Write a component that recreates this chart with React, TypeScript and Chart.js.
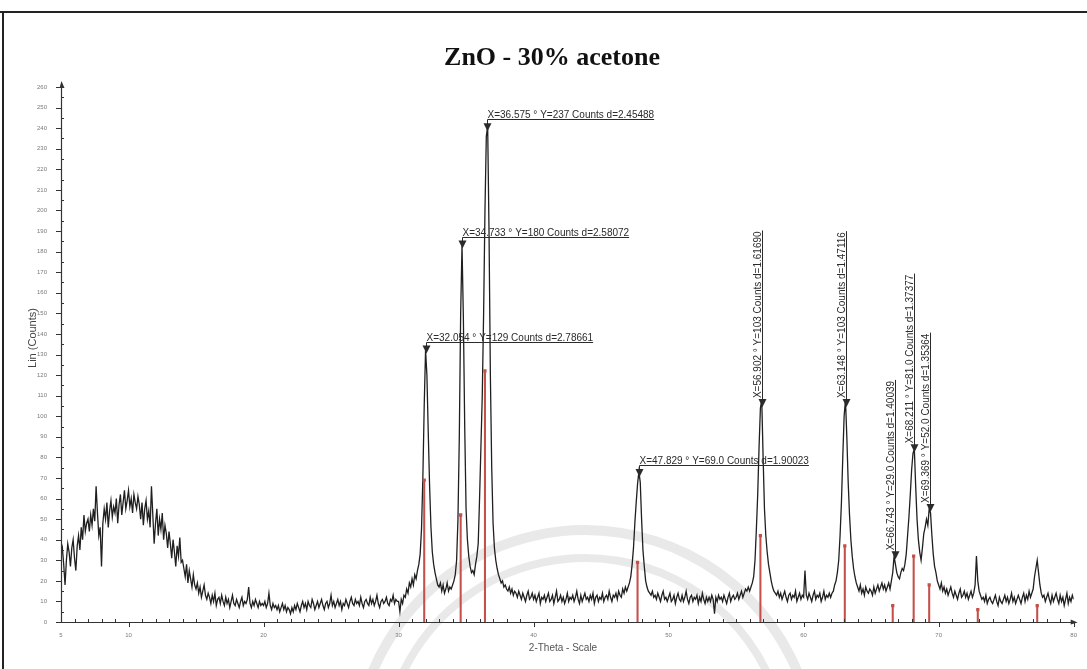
import React, { useEffect, useRef } from "react";
import { Chart, registerables } from "chart.js";

Chart.register(...registerables);

const chartTitle = "ZnO - 30% acetone";
const xAxisTitle = "2-Theta - Scale";
const yAxisTitle = "Lin (Counts)";

// measured intensity, 2-theta from 5.0 to 80.0 in 0.1 degree steps
const thetaStart = 5;
const thetaStep = 0.1;
const counts: number[] = [
  33, 36, 28, 18, 30, 38, 34, 27, 36, 40,
  31, 25, 37, 42, 35, 46, 40, 52, 44, 48,
  50, 44, 52, 47, 55, 49, 66, 53, 42, 46,
  27, 48, 55, 50, 58, 46, 54, 59, 51, 56,
  53, 60, 48, 57, 62, 52, 58, 64, 55, 59,
  64, 56, 60, 53, 62, 58, 55, 61, 57, 50,
  58, 47, 55, 59, 50, 54, 46, 66, 52, 38,
  48, 55, 42, 50, 45, 53, 40, 47, 43, 36,
  44, 38, 31, 40, 34, 27, 37, 32, 41, 29,
  30, 26, 22, 28, 19, 25, 21, 17, 23, 18,
  16, 19, 14, 17, 12, 15, 18, 13, 11, 14,
  12, 9, 13, 10, 14, 8, 11, 12, 9, 13,
  10, 8, 12, 9, 11, 7, 10, 13, 9, 8,
  11, 9, 7, 10, 12, 8, 10, 9, 11, 17,
  9, 7, 10, 8, 11, 9, 7, 10, 8, 9,
  8, 10, 7, 9, 14, 8, 6, 9, 7, 8,
  6, 8, 5, 7, 9, 6, 8, 5, 7, 6,
  4, 7, 5, 8, 6, 9, 7, 5, 8, 10,
  7, 9, 6, 10, 8, 7, 11, 9, 6, 8,
  10, 7, 9, 11, 8, 6, 9, 10, 7, 9,
  13, 8, 10, 7, 9, 11, 8, 10, 6, 9,
  8, 11, 9, 7, 10, 12, 9, 8, 11, 9,
  10, 8, 12, 9, 7, 10, 11, 9, 8, 12,
  9, 11, 8, 10, 13, 9, 7, 10, 11, 9,
  10, 12, 9, 8, 11, 10, 13, 9, 11, 10,
  10, 5, 11, 9, 13, 12, 16, 14, 19, 17,
  21, 18, 23, 21, 25, 28, 33, 45, 70, 105,
  132, 120, 92, 66, 46, 34, 28, 24, 21, 18,
  17, 19, 15, 18, 14, 16, 19, 15, 17, 16,
  18, 20, 23, 30, 50, 90, 150, 183, 148, 95,
  55, 40, 32, 27, 24, 25, 23, 28, 32, 38,
  60, 85, 110, 150, 200, 236, 241, 190, 120, 75,
  48, 36, 30, 26, 23, 21, 19, 20, 17, 18,
  16, 15, 17, 14, 16, 13, 15, 14, 12, 15,
  13, 11, 14, 12, 10, 13, 15, 11, 12, 14,
  11, 13, 10, 12, 14, 9, 12, 11, 13, 10,
  12, 14, 10, 11, 13, 9, 12, 15, 10, 11,
  13, 10, 12, 9, 11, 14, 10, 12, 11, 13,
  10, 12, 15, 11, 9, 13, 10, 12, 14, 11,
  12, 10, 13, 11, 14, 9, 12, 13, 10, 12,
  11, 14, 10, 12, 13, 11, 15, 12, 10, 13,
  12, 14, 11, 15, 13, 12, 16, 14, 17, 15,
  17, 19, 22, 28, 36, 48, 58, 67, 73, 68,
  50, 35, 27, 20, 17, 15, 14, 13, 15, 12,
  13, 11, 14, 12, 10, 13, 15, 11, 12, 10,
  12, 14, 10, 11, 13, 9, 12, 14, 11, 10,
  13, 10, 12, 15, 11, 9, 12, 13, 10, 12,
  11, 13, 9, 12, 10, 14, 11, 9, 12, 10,
  12, 10, 13, 11, 4, 12, 10, 13, 11, 12,
  10, 13, 11, 9, 12, 14, 10, 12, 13, 11,
  12, 14, 11, 13, 15, 12, 14, 16, 15, 17,
  15, 17, 19, 22, 30, 45, 62, 85, 104, 108,
  80, 55, 42, 34, 28, 24, 20, 17, 15, 14,
  13, 15, 12, 14, 11, 13, 15, 12, 10, 13,
  14, 11, 13, 12, 15, 10, 12, 14, 11, 13,
  12, 25, 13, 11, 14, 12, 10, 13, 15, 11,
  13, 12, 14, 10, 12, 15, 11, 13, 12, 14,
  12, 14, 15, 18, 20, 24, 30, 42, 58, 80,
  100, 108, 90, 68, 52, 40, 32, 26, 22, 19,
  17, 15, 18, 14, 16, 13, 17, 15, 14, 16,
  15, 13, 17, 14, 16, 18, 15, 17, 19, 16,
  18, 15, 17, 19, 16, 20, 24, 32, 28, 24,
  22, 21, 24, 26, 25, 28, 33, 42, 51, 62,
  74, 82, 84, 66, 50, 40, 34, 30, 36, 43,
  46, 50, 47, 55, 53, 42, 33, 27, 24, 20,
  18, 16, 19, 15, 17, 14, 16, 13, 15, 17,
  14, 12, 15, 13, 11, 14, 16, 12, 13, 15,
  12, 14, 11, 13, 15, 12, 14, 18, 32, 20,
  15, 13, 11, 12, 10, 13, 9, 11, 12, 10,
  9, 11, 13, 10, 8, 12, 10, 9, 11, 13,
  10, 12, 9, 11, 14, 10, 12, 9, 11, 13,
  11, 9, 12, 14, 10, 13, 11, 15, 12, 14,
  16, 22, 26, 30, 24, 18, 14, 12, 13, 10,
  12, 14, 11, 9, 13, 10, 12, 14, 11, 9,
  13, 10, 12, 8, 11, 14, 9, 12, 10, 13,
  11,
];

const xTickValues = [5, 10, 20, 30, 40, 50, 60, 70, 80];
const yTickValues = [
  0, 10, 20, 30, 40, 50, 60, 70, 80, 90, 100, 110, 120, 130,
  140, 150, 160, 170, 180, 190, 200, 210, 220, 230, 240, 250, 260,
];

// peak-search annotations
const peakTheta = [32.054, 34.733, 36.575, 47.829, 56.902, 63.148, 66.743, 68.211, 69.369];
const peakCounts = [129, 180, 237, 69.0, 103, 103, 29.0, 81.0, 52.0];
const peakLabels = [
  "X=32.054 ° Y=129 Counts d=2.78661",
  "X=34.733 ° Y=180 Counts d=2.58072",
  "X=36.575 ° Y=237 Counts d=2.45488",
  "X=47.829 ° Y=69.0 Counts d=1.90023",
  "X=56.902 ° Y=103 Counts d=1.61690",
  "X=63.148 ° Y=103 Counts d=1.47116",
  "X=66.743 ° Y=29.0 Counts d=1.40039",
  "X=68.211 ° Y=81.0 Counts d=1.37377",
  "X=69.369 ° Y=52.0 Counts d=1.35364",
];
const peakLabelVertical = [false, false, false, false, true, true, true, true, true];

// reference pattern sticks (red)
const refTheta = [31.9, 34.6, 36.4, 47.7, 56.8, 63.05, 66.6, 68.15, 69.3, 72.9, 77.3];
const refCounts = [69, 52, 122, 29, 42, 37, 8, 32, 18, 6, 8];

const SANS = "'Liberation Sans', Arial, sans-serif";
const SERIF = "'Liberation Serif', 'Times New Roman', serif";
const INK = "#2b2b2b";
const STICK = "#c4504a";

const decorPlugin = {
  id: "xrdDecor",
  beforeDraw(chart: any) {
    const { ctx, width, height } = chart;
    ctx.save();
    ctx.fillStyle = "#ffffff";
    ctx.fillRect(0, 0, width, height);
    // faint watermark arcs
    ctx.strokeStyle = "rgba(200,200,200,0.4)";
    ctx.lineWidth = 10;
    ctx.beginPath();
    ctx.arc(585, 760, 230, Math.PI * 1.05, Math.PI * 1.95);
    ctx.stroke();
    ctx.lineWidth = 8;
    ctx.beginPath();
    ctx.arc(585, 760, 202, Math.PI * 1.05, Math.PI * 1.95);
    ctx.stroke();
    // frame
    ctx.fillStyle = "#222";
    ctx.fillRect(0, 11, width, 2);
    ctx.fillRect(2, 11, 2, height - 11);
    ctx.restore();
  },
  afterDatasetsDraw(chart: any) {
    const { ctx } = chart;
    const xs = chart.scales.x;
    const ys = chart.scales.y;
    const x0 = xs.left;
    const x1 = xs.right;
    const y0 = ys.bottom;
    const y1 = ys.top;
    ctx.save();
    ctx.strokeStyle = "#333";
    ctx.fillStyle = "#333";
    ctx.lineWidth = 1.2;
    // axes
    ctx.beginPath();
    ctx.moveTo(x0 + 0.5, y0);
    ctx.lineTo(x0 + 0.5, y1 - 3);
    ctx.moveTo(x0, y0 + 0.5);
    ctx.lineTo(x1 + 2, y0 + 0.5);
    ctx.stroke();
    // arrow heads
    ctx.beginPath();
    ctx.moveTo(x0 + 0.5, y1 - 6);
    ctx.lineTo(x0 - 1.5, y1 + 1);
    ctx.lineTo(x0 + 3.5, y1 + 1);
    ctx.closePath();
    ctx.fill();
    ctx.beginPath();
    ctx.moveTo(x1 + 4, y0 + 0.5);
    ctx.lineTo(x1 - 3, y0 - 2.5);
    ctx.lineTo(x1 - 3, y0 + 2.5);
    ctx.closePath();
    ctx.fill();
    // y ticks
    ctx.lineWidth = 1;
    ctx.beginPath();
    for (let v = 0; v <= 260; v += 5) {
      const py = Math.round(ys.getPixelForValue(v)) + 0.5;
      if (v % 10 === 0) {
        ctx.moveTo(x0 - 5, py);
        ctx.lineTo(x0, py);
      } else {
        ctx.moveTo(x0, py);
        ctx.lineTo(x0 + 3, py);
      }
    }
    // x ticks
    for (let v = 5; v <= 80; v += 1) {
      const px = Math.round(xs.getPixelForValue(v)) + 0.5;
      if (v % 10 === 0) {
        ctx.moveTo(px, y0);
        ctx.lineTo(px, y0 + 5);
      } else {
        ctx.moveTo(px, y0);
        ctx.lineTo(px, y0 - 3);
      }
    }
    ctx.stroke();

    // annotations
    ctx.font = `10px ${SANS}`;
    ctx.fillStyle = INK;
    ctx.strokeStyle = INK;
    ctx.lineWidth = 1;
    peakTheta.forEach((t, i) => {
      const px = Math.round(xs.getPixelForValue(t)) + 0.5;
      const py = ys.getPixelForValue(peakCounts[i]);
      const cy = py - 7;
      // triangle
      ctx.beginPath();
      ctx.moveTo(px - 4, cy - 4);
      ctx.lineTo(px + 4, cy - 4);
      ctx.lineTo(px, cy + 4);
      ctx.closePath();
      ctx.fill();
      const label = peakLabels[i];
      const w = ctx.measureText(label).width;
      if (peakLabelVertical[i]) {
        const start = cy - 5;
        ctx.beginPath();
        ctx.moveTo(px, cy);
        ctx.lineTo(px, start - w - 1);
        ctx.stroke();
        ctx.save();
        ctx.translate(px, start);
        ctx.rotate(-Math.PI / 2);
        ctx.textAlign = "left";
        ctx.textBaseline = "alphabetic";
        ctx.fillText(label, 0, -2);
        ctx.restore();
      } else {
        const uy = Math.round(cy - 8) + 0.5;
        ctx.beginPath();
        ctx.moveTo(px, cy);
        ctx.lineTo(px, uy);
        ctx.lineTo(px + w, uy);
        ctx.stroke();
        ctx.textAlign = "left";
        ctx.textBaseline = "alphabetic";
        ctx.fillText(label, px, uy - 2);
      }
    });

    // titles
    ctx.fillStyle = "#111";
    ctx.textAlign = "center";
    ctx.textBaseline = "alphabetic";
    ctx.font = `bold 26px ${SERIF}`;
    ctx.fillText(chartTitle, 552, 65);
    ctx.fillStyle = "#555";
    ctx.font = `10px ${SANS}`;
    ctx.fillText(xAxisTitle, 563, 651);
    ctx.save();
    ctx.translate(36, 338);
    ctx.rotate(-Math.PI / 2);
    ctx.font = `11px ${SANS}`;
    ctx.fillStyle = "#444";
    ctx.fillText(yAxisTitle, 0, 0);
    ctx.restore();
    ctx.restore();
  },
};

export default function App() {
  const canvasRef = useRef<HTMLCanvasElement | null>(null);

  useEffect(() => {
    if (!canvasRef.current) return;
    const tracePoints = counts.map((c, i) => ({
      x: Math.round((thetaStart + i * thetaStep) * 100) / 100,
      y: c,
    }));
    const stickPoints = refTheta.map((t, i) => ({ x: t, y: refCounts[i] }));

    const chart = new Chart(canvasRef.current, {
      type: "line",
      data: {
        datasets: [
          {
            type: "scatter",
            data: stickPoints,
            pointStyle: "rect",
            pointRadius: 2.3,
            backgroundColor: STICK,
            borderColor: STICK,
            borderWidth: 0,
            order: 0,
          } as any,
          {
            type: "bar",
            data: stickPoints,
            backgroundColor: STICK,
            barThickness: 1.4,
            order: 1,
          } as any,
          {
            type: "line",
            data: tracePoints,
            borderColor: "#1f1f1f",
            borderWidth: 1.3,
            pointRadius: 0,
            tension: 0,
            order: 2,
          },
        ],
      },
      options: {
        responsive: false,
        animation: false,
        events: [],
        layout: { padding: { top: 87, right: 9, left: 0, bottom: 0 } },
        plugins: {
          legend: { display: false },
          tooltip: { enabled: false },
          title: { display: false },
        },
        scales: {
          x: {
            type: "linear",
            min: 5,
            max: 80,
            offset: false,
            grid: { display: false, drawTicks: false },
            border: { display: false },
            ticks: {
              autoSkip: false,
              maxRotation: 0,
              padding: 10,
              color: "#7a7a7a",
              font: { size: 6, family: SANS },
            },
            afterBuildTicks: (s: any) => {
              s.ticks = xTickValues.map((v) => ({ value: v }));
            },
            afterFit: (s: any) => {
              s.height = 47;
            },
          },
          y: {
            type: "linear",
            min: 0,
            max: 260,
            grid: { display: false, drawTicks: false },
            border: { display: false },
            ticks: {
              autoSkip: false,
              padding: 14,
              color: "#7a7a7a",
              font: { size: 6, family: SANS },
            },
            afterBuildTicks: (s: any) => {
              s.ticks = yTickValues.map((v) => ({ value: v }));
            },
            afterFit: (s: any) => {
              s.width = 61;
            },
          },
        },
      } as any,
      plugins: [decorPlugin],
    });
    return () => chart.destroy();
  }, []);

  return (
    <div style={{ position: "absolute", left: 0, top: 0, width: 1087, height: 669, background: "#fff" }}>
      <canvas ref={canvasRef} width={1087} height={669} style={{ display: "block" }} />
    </div>
  );
}
